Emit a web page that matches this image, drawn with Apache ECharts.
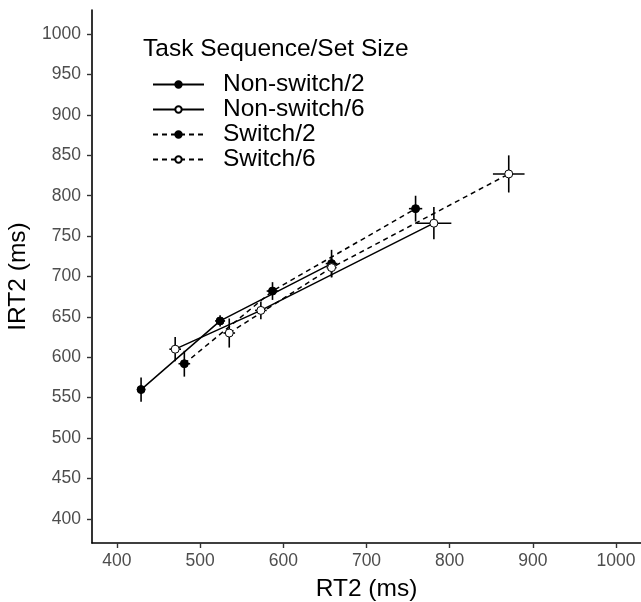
<!DOCTYPE html>
<html>
<head>
<meta charset="utf-8">
<script src="https://cdn.jsdelivr.net/npm/echarts@6/dist/echarts.min.js"></script>
<style>html,body{margin:0;padding:0;background:#fff}#c{width:641px;height:602px}</style>
</head>
<body>
<div id="c"></div>
<script>
// ---- data ----
const seriesNames = ['Non-switch/2', 'Non-switch/6', 'Switch/2', 'Switch/6'];
const rtNS2  = [429, 524, 658];
const irtNS2 = [560, 645, 716];
const rtNS6  = [470, 573, 781];
const irtNS6 = [610, 658, 766];
const rtS2   = [481, 587, 759];
const irtS2  = [592, 682, 784];
const rtS6   = [535, 658, 871];
const irtS6  = [630, 711, 827];
// error bar half-widths (ms)
const rtErrNS2 = [5, 6, 7];   const irtErrNS2 = [15, 7, 17];
const rtErrNS6 = [7, 7, 21];  const irtErrNS6 = [15, 11, 20];
const rtErrS2  = [7, 7, 8];   const irtErrS2  = [16, 11, 16];
const rtErrS6  = [7, 6, 19];  const irtErrS6  = [18, 12, 23];
const xTicks = [400, 500, 600, 700, 800, 900, 1000];
const yTicks = [400, 450, 500, 550, 600, 650, 700, 750, 800, 850, 900, 950, 1000];
const legendTitle = 'Task Sequence/Set Size';
const xName = 'RT2 (ms)';
const yName = 'IRT2 (ms)';

const FONT = 'Liberation Sans, Arial, Helvetica, sans-serif';
const groups = [
  {name: seriesNames[0], x: rtNS2, y: irtNS2, xe: rtErrNS2, ye: irtErrNS2, filled: true,  dash: 'solid'},
  {name: seriesNames[1], x: rtNS6, y: irtNS6, xe: rtErrNS6, ye: irtErrNS6, filled: false, dash: 'solid'},
  {name: seriesNames[2], x: rtS2,  y: irtS2,  xe: rtErrS2,  ye: irtErrS2,  filled: true,  dash: [5, 4]},
  {name: seriesNames[3], x: rtS6,  y: irtS6,  xe: rtErrS6,  ye: irtErrS6,  filled: false, dash: [5, 4]}
];

const errData = [];
groups.forEach(g => g.x.forEach((v, i) => errData.push([v, g.y[i], g.xe[i], g.ye[i]])));

const series = [{
  type: 'custom',
  name: 'err',
  silent: true,
  z: 1,
  data: errData,
  encode: {x: 0, y: 1},
  renderItem: function (params, api) {
    const x = api.value(0), y = api.value(1), xe = api.value(2), ye = api.value(3);
    const l = api.coord([x - xe, y]), r = api.coord([x + xe, y]);
    const t = api.coord([x, y + ye]), b = api.coord([x, y - ye]);
    const st = {stroke: '#000', lineWidth: 1.6};
    return {type: 'group', children: [
      {type: 'line', shape: {x1: l[0], y1: l[1], x2: r[0], y2: r[1]}, style: st},
      {type: 'line', shape: {x1: t[0], y1: t[1], x2: b[0], y2: b[1]}, style: st}
    ]};
  }
}];
groups.forEach(g => {
  series.push({
    type: 'line',
    name: g.name,
    z: 3,
    data: g.x.map((v, i) => [v, g.y[i]]),
    symbol: 'circle',
    symbolSize: 8,
    showAllSymbol: true,
    lineStyle: {color: '#000', width: 1.5, type: g.dash},
    itemStyle: g.filled ? {color: '#000', borderColor: '#000', borderWidth: 1}
                        : {color: '#fff', borderColor: '#000', borderWidth: 1},
    emphasis: {disabled: true}
  });
});

const plain = v => String(v);
const chart = echarts.init(document.getElementById('c'), null, {renderer: 'canvas'});
chart.setOption({
  animation: false,
  backgroundColor: '#fff',
  textStyle: {fontFamily: FONT},
  title: {
    text: legendTitle, left: 143, top: 37, padding: 0,
    textStyle: {fontFamily: FONT, fontSize: 24.5, fontWeight: 'normal', color: '#000'}
  },
  legend: {
    data: seriesNames,
    orient: 'vertical',
    left: 152, top: 72, padding: 0,
    itemWidth: 51, itemHeight: 8, itemGap: 0,
    textStyle: {fontFamily: FONT, fontSize: 24.5, color: '#000', padding: [0, 0, 0, 14]}
  },
  grid: {left: 92, right: 0, top: 10, bottom: 59, containLabel: false, outerBoundsMode: 'none'},
  xAxis: {
    type: 'value', min: 370, max: 1030,
    name: xName, nameLocation: 'middle', nameGap: 34,
    nameTextStyle: {fontFamily: FONT, fontSize: 24.5, color: '#000'},
    axisLine: {onZero: false, lineStyle: {color: '#000', width: 1.6}},
    axisTick: {show: true, length: 5, customValues: xTicks, lineStyle: {color: '#333', width: 1.4}},
    axisLabel: {customValues: xTicks, formatter: plain, margin: 9, fontFamily: FONT, fontSize: 17.5, color: '#4d4d4d'},
    splitLine: {show: false}
  },
  yAxis: {
    type: 'value', min: 370, max: 1030,
    name: yName, nameLocation: 'middle', nameGap: 52, nameRotate: 90,
    nameTextStyle: {fontFamily: FONT, fontSize: 24.5, color: '#000'},
    axisLine: {onZero: false, lineStyle: {color: '#000', width: 1.6}},
    axisTick: {show: true, length: 5, customValues: yTicks, lineStyle: {color: '#333', width: 1.4}},
    axisLabel: {customValues: yTicks, formatter: plain, margin: 11, fontFamily: FONT, fontSize: 17.5, color: '#4d4d4d'},
    splitLine: {show: false}
  },
  series: series
});
</script>
</body>
</html>
